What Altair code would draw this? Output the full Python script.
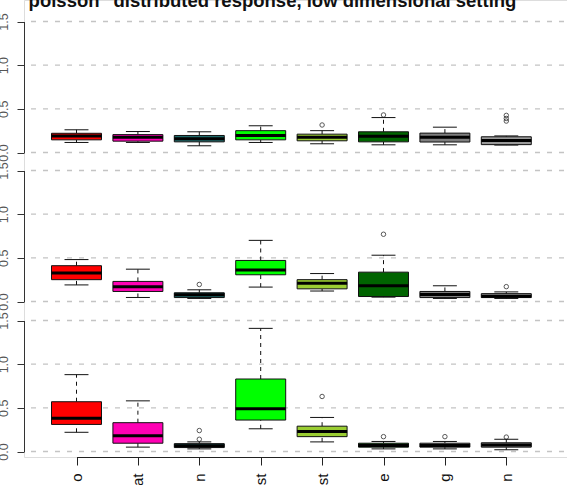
import altair as alt
import pandas as pd

TITLE = 'poisson" distributed response, low dimensional setting'
METHODS = ["o", "at", "n", "st", "st", "e", "g", "n"]
COLORS = ["#FF0000", "#FF00B4", "#1F6A6A", "#00FF00", "#9ACD32", "#006400", "#7F7F7F", "#9A9A9A"]
GRID = [0.0, 0.5, 1.0, 1.5]
TICKS = [0.0, 0.5, 1.0, 1.5]

# panel 1 (top)
P1_LOW = [0.115, 0.115, 0.077, 0.115, 0.100, 0.088, 0.088, 0.085]
P1_Q1 = [0.145, 0.130, 0.122, 0.145, 0.134, 0.122, 0.120, 0.090]
P1_MED = [0.190, 0.175, 0.157, 0.195, 0.176, 0.185, 0.176, 0.137]
P1_Q3 = [0.220, 0.205, 0.195, 0.250, 0.210, 0.237, 0.222, 0.180]
P1_HIGH = [0.260, 0.240, 0.237, 0.306, 0.250, 0.400, 0.290, 0.190]
P1_OUT_POS = [5, 6, 8, 8, 8]
P1_OUT_VAL = [0.315, 0.430, 0.425, 0.390, 0.360]

# panel 2 (middle)
P2_LOW = [0.190, 0.046, 0.035, 0.165, 0.120, 0.050, 0.035, 0.035]
P2_Q1 = [0.250, 0.115, 0.045, 0.306, 0.145, 0.057, 0.045, 0.045]
P2_MED = [0.325, 0.170, 0.077, 0.360, 0.210, 0.180, 0.080, 0.060]
P2_Q3 = [0.410, 0.230, 0.100, 0.470, 0.250, 0.336, 0.115, 0.090]
P2_HIGH = [0.480, 0.370, 0.134, 0.700, 0.320, 0.530, 0.180, 0.110]
P2_OUT_POS = [3, 6, 8]
P2_OUT_VAL = [0.195, 0.770, 0.170]

# panel 3 (bottom)
P3_LOW = [0.220, 0.050, 0.030, 0.260, 0.110, 0.030, 0.030, 0.020]
P3_Q1 = [0.310, 0.095, 0.045, 0.360, 0.170, 0.050, 0.050, 0.050]
P3_MED = [0.380, 0.180, 0.065, 0.490, 0.230, 0.070, 0.070, 0.075]
P3_Q3 = [0.570, 0.330, 0.090, 0.830, 0.290, 0.095, 0.095, 0.100]
P3_HIGH = [0.880, 0.580, 0.110, 1.410, 0.390, 0.115, 0.115, 0.140]
P3_OUT_POS = [3, 3, 5, 6, 7, 8]
P3_OUT_VAL = [0.240, 0.140, 0.630, 0.170, 0.170, 0.165]

FONT = "Liberation Sans"
BOX_HALF = 0.407
CAP_HALF = 0.195

xsc = alt.Scale(domain=[1, 8], range=[52.5, 482.3], nice=False, zero=False)
label_expr = "[" + ",".join("'" + m + "'" for m in METHODS) + "][datum.value - 1]"
xax = alt.Axis(
    values=list(range(1, len(METHODS) + 1)), labelExpr=label_expr, title=None, grid=False,
    domainColor="#222", tickColor="#222", tickSize=8, labelAngle=270, labelAlign="right",
    labelBaseline="middle", labelPadding=8, labelFontSize=15, labelColor="#111",
    labelFlush=False, labelOverlap=False, labelBound=False, labelFont=FONT,
)


def panel(low, q1, med, q3, high, out_pos, out_val, yrange):
    df = pd.DataFrame({"pos": list(range(1, len(low) + 1)), "low": low, "q1": q1, "med": med,
                       "q3": q3, "high": high, "col": COLORS})
    ysc = alt.Scale(domain=[0, 1.5], range=yrange, nice=False, zero=False)
    yax = alt.Axis(
        orient="left", values=TICKS, format=".1f", title=None, grid=False,
        domainColor="#333", tickColor="#333", tickSize=7, labelAngle=270,
        labelAlign="center", labelBaseline="bottom", labelPadding=7, labelFontSize=12.5,
        labelColor="#555", labelFlush=False, labelOverlap=False, labelFont=FONT,
    )
    base = alt.Chart(df).transform_calculate(
        bl="datum.pos - %f" % BOX_HALF, br="datum.pos + %f" % BOX_HALF,
        cl="datum.pos - %f" % CAP_HALF, cr="datum.pos + %f" % CAP_HALF,
    )
    X = alt.X("pos:Q", scale=xsc, axis=xax)

    def Y(f):
        return alt.Y(f, scale=ysc, axis=yax)

    grid = alt.Chart(pd.DataFrame({"g": GRID})).mark_rule(
        color="#C4C4C4", strokeWidth=1.3, strokeDash=[5, 7]
    ).encode(y=Y("g:Q"), x=alt.value(7), x2=alt.value(543))
    wh_up = base.mark_rule(color="#111", strokeDash=[4, 4], strokeWidth=1).encode(
        x=X, y=Y("q3:Q"), y2="high:Q")
    wh_lo = base.mark_rule(color="#111", strokeDash=[4, 4], strokeWidth=1).encode(
        x=X, y=Y("low:Q"), y2="q1:Q")
    cap_up = base.mark_rule(color="#111", strokeWidth=1).encode(
        x=alt.X("cl:Q", scale=xsc, axis=xax), x2="cr:Q", y=Y("high:Q"))
    cap_lo = base.mark_rule(color="#111", strokeWidth=1).encode(
        x=alt.X("cl:Q", scale=xsc, axis=xax), x2="cr:Q", y=Y("low:Q"))
    box = base.mark_rect(stroke="#111", strokeWidth=1).encode(
        x=alt.X("bl:Q", scale=xsc, axis=xax), x2="br:Q", y=Y("q1:Q"), y2="q3:Q",
        color=alt.Color("col:N", scale=None))
    med_l = base.mark_rule(color="#000", strokeWidth=3).encode(
        x=alt.X("bl:Q", scale=xsc, axis=xax), x2="br:Q", y=Y("med:Q"))
    out = alt.Chart(pd.DataFrame({"pos": out_pos, "val": out_val})).mark_point(
        shape="circle", filled=False, size=20, color="#111", strokeWidth=1
    ).encode(x=X, y=Y("val:Q"))
    return alt.layer(grid, wh_up, wh_lo, cap_up, cap_lo, box, med_l, out)


p1 = panel(P1_LOW, P1_Q1, P1_MED, P1_Q3, P1_HIGH, P1_OUT_POS, P1_OUT_VAL, [152.5, 21.5])
p2 = panel(P2_LOW, P2_Q1, P2_MED, P2_Q3, P2_HIGH, P2_OUT_POS, P2_OUT_VAL, [301.5, 170.5])
p3 = panel(P3_LOW, P3_Q1, P3_MED, P3_Q3, P3_HIGH, P3_OUT_POS, P3_OUT_VAL, [451.5, 320.5])

title = alt.Chart(pd.DataFrame({"t": [TITLE]})).mark_text(
    font=FONT, fontSize=18.5, fontWeight="bold", color="#111", align="center",
    baseline="alphabetic"
).encode(text="t:N", x=alt.value(248.5), y=alt.value(6.5))

chart = alt.layer(p1, p2, p3, title).resolve_scale(y="independent").properties(
    width=543, height=457,
    autosize=alt.AutoSizeParams(type="none"),
    padding={"left": 24, "top": 0, "right": 0, "bottom": 28},
).configure_view(stroke="transparent").configure(font=FONT)

chart.save("out.html", embed_options={"renderer": "svg", "actions": False})
